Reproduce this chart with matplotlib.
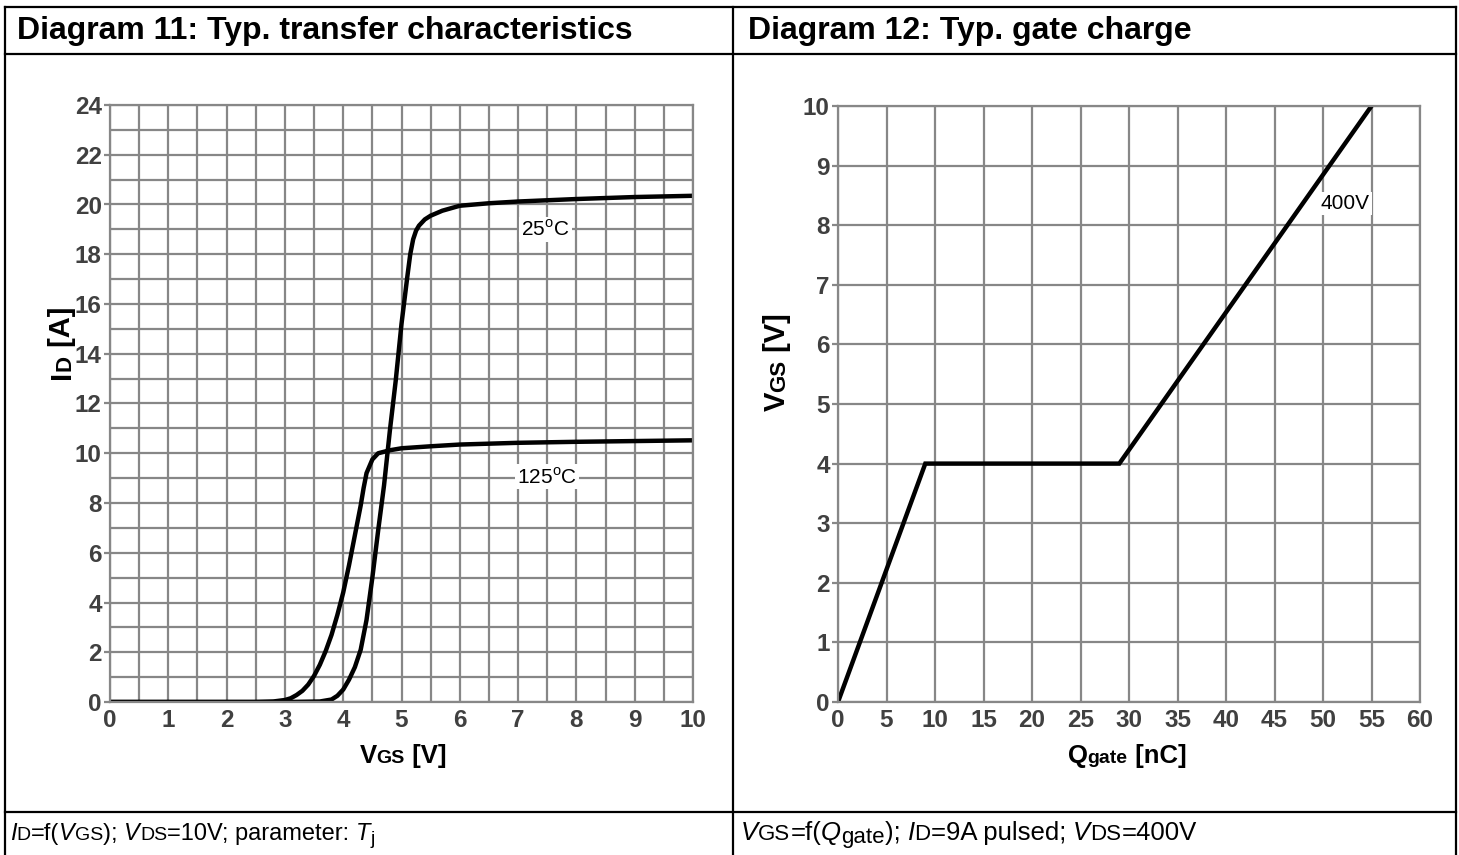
import numpy as np
import matplotlib
matplotlib.use('Agg')
import matplotlib.pyplot as plt
from matplotlib.ticker import MultipleLocator

plt.rcParams['font.family'] = ['Liberation Sans', 'DejaVu Sans']
plt.rcParams['mathtext.fontset'] = 'custom'
plt.rcParams['mathtext.rm'] = 'Liberation Sans'

# Diagram 11 - transfer characteristics
vgs_25 = [0, 3.0, 3.6, 3.8, 3.9, 4.0, 4.1, 4.2, 4.3, 4.4, 4.5, 4.6, 4.7, 4.8, 4.9,
          5.0, 5.1, 5.15, 5.2, 5.25, 5.3, 5.4, 5.5, 5.7, 6.0, 6.5, 7, 8, 9, 10]
id_25 = [0, 0, 0.02, 0.1, 0.25, 0.5, 0.9, 1.4, 2.1, 3.3, 5.0, 6.9, 8.7, 10.9, 12.9,
         15.2, 17.1, 18.0, 18.6, 18.95, 19.15, 19.4, 19.55, 19.75, 19.95, 20.05, 20.12, 20.22, 20.3, 20.35]
vgs_125 = [0, 2.5, 2.8, 3.0, 3.1, 3.2, 3.3, 3.4, 3.5, 3.6, 3.7, 3.8, 3.9, 4.0, 4.1,
           4.2, 4.3, 4.35, 4.4, 4.5, 4.6, 4.8, 5.0, 5.5, 6, 7, 8, 9, 10]
id_125 = [0, 0, 0.02, 0.08, 0.15, 0.28, 0.45, 0.7, 1.05, 1.5, 2.05, 2.7, 3.5, 4.4, 5.5,
          6.7, 7.9, 8.6, 9.2, 9.75, 10.0, 10.12, 10.2, 10.28, 10.35, 10.42, 10.46, 10.49, 10.52]

# Diagram 12 - gate charge
qgate = [0, 9, 29, 55]
vgs_gate = [0, 4, 4, 10]

W, H = 1459, 855
fig = plt.figure(figsize=(W / 100, H / 100), dpi=100)
grid_col = '#878787'
tick_col = '#404040'


def px(x, y):
    return x / W, 1 - y / H


def style_axes(ax):
    for s in ax.spines.values():
        s.set_color(grid_col)
        s.set_linewidth(1.6)
    ax.grid(True, which='both', color=grid_col, linewidth=1.6)
    ax.set_axisbelow(True)
    ax.tick_params(axis='both', which='both', labelsize=17.5, labelcolor=tick_col)
    ax.tick_params(axis='x', which='both', length=0, pad=5)
    ax.tick_params(axis='y', which='major', length=4, color=grid_col, width=1.6, pad=2)
    ax.tick_params(axis='y', which='minor', length=0)
    for lab in ax.get_xticklabels() + ax.get_yticklabels():
        lab.set_fontweight('bold')


def seq_text(x, y, parts, rot=0, center=False):
    # draw text pieces one after another (used for small-letter indices)
    r = fig.canvas.get_renderer()
    made = []
    off = 0
    for s, kw in parts:
        kw = dict(kw)
        dy = kw.pop('dy', 0)
        if rot == 0:
            fx, fy = px(x + off, y + dy)
        else:
            fx, fy = px(x + dy, y - off)
        t = fig.text(fx, fy, s, rotation=rot, ha='left', va='baseline',
                     rotation_mode='anchor', **kw)
        bb = t.get_window_extent(r)
        off += bb.width if rot == 0 else bb.height
        made.append(t)
    if center:
        for t in made:
            fx, fy = t.get_position()
            if rot == 0:
                t.set_position((fx - off / 2 / W, fy))
            else:
                t.set_position((fx, fy - off / 2 / H))
    return made


# left diagram
ax1 = fig.add_axes([110 / W, 1 - 702 / H, 583 / W, 597 / H])
ax1.plot(vgs_25, id_25, color='black', lw=3.2, solid_capstyle='butt')
ax1.plot(vgs_125, id_125, color='black', lw=3.2, solid_capstyle='butt')
ax1.set_xlim(0, 10)
ax1.set_ylim(0, 24)
ax1.xaxis.set_major_locator(MultipleLocator(1))
ax1.xaxis.set_minor_locator(MultipleLocator(0.5))
ax1.yaxis.set_major_locator(MultipleLocator(2))
ax1.yaxis.set_minor_locator(MultipleLocator(1))
style_axes(ax1)
box = dict(facecolor='white', edgecolor='none', pad=1.5)
ax1.text(7.47, 19.0, r'25$^{\rm o}$C', fontsize=15, ha='center', va='center', bbox=box)
ax1.text(7.5, 9.05, r'125$^{\rm o}$C', fontsize=15, ha='center', va='center', bbox=box)

# right diagram
ax2 = fig.add_axes([838 / W, 1 - 702 / H, 582 / W, 596 / H])
ax2.plot(qgate, vgs_gate, color='black', lw=3.2, solid_joinstyle='miter')
ax2.set_xlim(0, 60)
ax2.set_ylim(0, 10)
ax2.xaxis.set_major_locator(MultipleLocator(5))
ax2.yaxis.set_major_locator(MultipleLocator(1))
style_axes(ax2)
ax2.text(52.3, 8.36, '400V', fontsize=15, ha='center', va='center', bbox=box)

# table lines
line_kw = dict(color='black', lw=1.6, transform=fig.transFigure)
for (x0, y0, x1, y1) in [(5, 7, 1456, 7), (5, 54, 1456, 54), (5, 812, 1456, 812),
                         (5, 7, 5, 855), (733, 7, 733, 855), (1456, 7, 1456, 855)]:
    a, b = px(x0, y0)
    c, d = px(x1, y1)
    fig.add_artist(plt.Line2D([a, c], [b, d], **line_kw))

# titles
fig.text(*px(17, 39), 'Diagram 11: Typ. transfer characteristics', fontsize=23,
         fontweight='bold', va='baseline')
fig.text(*px(748, 39), 'Diagram 12: Typ. gate charge', fontsize=23,
         fontweight='bold', va='baseline')

# axis labels
bold = dict(fontsize=18.5, fontweight='bold')
bsub = dict(fontsize=14, fontweight='bold')
rbold = dict(fontsize=21, fontweight='bold')
rsub = dict(fontsize=16, fontweight='bold')
seq_text(403, 763, [('V', bold), ('GS', bsub), (' [V]', bold)], center=True)
seq_text(1127, 763, [('Q', bold), ('gate', bsub), (' [nC]', bold)], center=True)
seq_text(70, 343, [('I', rbold), ('D', rsub), (' [A]', rbold)], rot=90, center=True)
seq_text(785, 362, [('V', rbold), ('GS', rsub), (' [V]', rbold)], rot=90, center=True)

# footers
it = dict(fontsize=17, fontstyle='italic')
rm = dict(fontsize=17)
sub = dict(fontsize=14)
seq_text(10, 840, [('I', it), ('D', sub), ('=f(', rm), ('V', it), ('GS', sub), ('); ', rm),
                   ('V', it), ('DS', sub), ('=10V; parameter: ', rm), ('T', it),
                   ('j', dict(sub, dy=4))])
it2 = dict(fontsize=18.5, fontstyle='italic')
rm2 = dict(fontsize=18.5)
sub2 = dict(fontsize=16)
seq_text(741, 840, [('V', it2), ('GS', sub2), ('=f(', rm2), ('Q', it2), ('gate', dict(sub2, dy=3)),
                    ('); ', rm2), ('I', it2), ('D', sub2), ('=9A pulsed; ', rm2), ('V', it2),
                    ('DS', sub2), ('=400V', rm2)])

fig.savefig('out.png', dpi=100)
